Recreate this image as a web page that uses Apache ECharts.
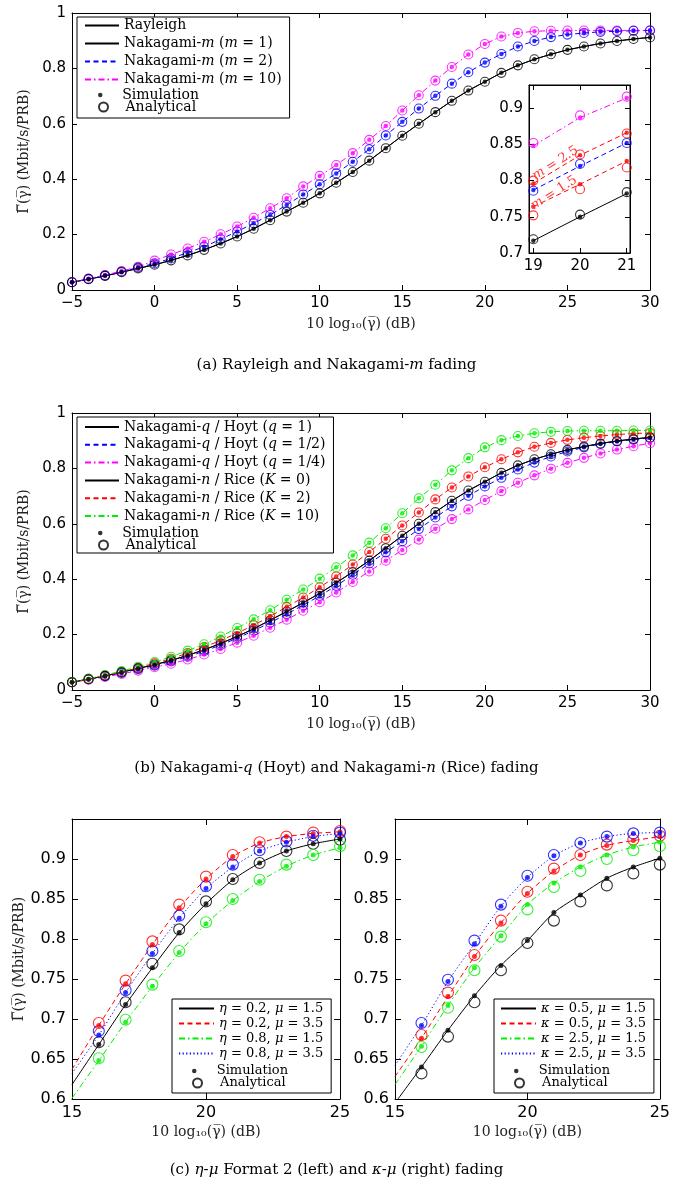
<!DOCTYPE html>
<html><head><meta charset="utf-8">
<script src="https://cdn.jsdelivr.net/npm/echarts@6/dist/echarts.min.js"></script>
<style>html,body{margin:0;padding:0;background:#fff}#c{width:673px;height:1187px}</style>
</head><body><div id="c"></div>
<script>
// ---------- data ----------
const snrDb = [-5,-4,-3,-2,-1,0,1,2,3,4,5,6,7,8,9,10,11,12,13,14,15,16,17,18,19,20,21,22,23,24,25,26,27,28,29,30];
const rayleigh = [0.028,0.039,0.051,0.064,0.078,0.091,0.107,0.125,0.145,0.168,0.193,0.221,0.252,0.283,0.315,0.349,0.387,0.426,0.467,0.512,0.557,0.600,0.642,0.683,0.720,0.752,0.784,0.811,0.833,0.851,0.867,0.879,0.890,0.899,0.906,0.912];
const nakM2 = [0.028,0.040,0.052,0.066,0.081,0.096,0.114,0.135,0.156,0.183,0.211,0.241,0.271,0.307,0.345,0.382,0.421,0.463,0.508,0.558,0.607,0.655,0.701,0.745,0.786,0.821,0.852,0.879,0.899,0.913,0.922,0.928,0.932,0.934,0.936,0.937];
const nakM10 = [0.028,0.041,0.054,0.068,0.084,0.106,0.128,0.150,0.174,0.201,0.229,0.261,0.295,0.331,0.374,0.412,0.451,0.494,0.542,0.592,0.648,0.703,0.756,0.805,0.850,0.888,0.915,0.928,0.934,0.936,0.937,0.937,0.937,0.937,0.937,0.937];

const insetDb = [19,20,21];
const insetSimM1 = [0.717,0.750,0.782];
const insetAnaM1 = [0.719,0.753,0.784];
const insetSimM15 = [0.764,0.795,0.827];
const insetAnaM15 = [0.752,0.788,0.818];
const insetSimM2 = [0.787,0.820,0.852];
const insetAnaM2 = [0.786,0.823,0.852];
const insetSimM25 = [0.796,0.835,0.866];
const insetAnaM25 = [0.800,0.836,0.865];
const insetSimM10 = [0.848,0.887,0.914];
const insetAnaM10 = [0.852,0.890,0.916];

const hoytQ2 = [0.028,0.039,0.050,0.062,0.075,0.088,0.103,0.120,0.140,0.162,0.187,0.214,0.243,0.274,0.306,0.340,0.376,0.416,0.457,0.497,0.537,0.581,0.623,0.663,0.701,0.735,0.766,0.796,0.821,0.843,0.861,0.876,0.888,0.897,0.904,0.910];
const hoytQ4 = [0.027,0.037,0.047,0.058,0.070,0.082,0.095,0.110,0.128,0.148,0.171,0.196,0.225,0.254,0.286,0.317,0.352,0.390,0.428,0.467,0.505,0.543,0.582,0.617,0.652,0.686,0.718,0.748,0.775,0.799,0.820,0.838,0.854,0.868,0.880,0.891];
const riceK2 = [0.028,0.040,0.052,0.065,0.080,0.096,0.113,0.133,0.155,0.179,0.205,0.234,0.266,0.300,0.334,0.371,0.410,0.453,0.498,0.546,0.594,0.641,0.688,0.731,0.771,0.804,0.833,0.858,0.878,0.892,0.903,0.911,0.917,0.922,0.926,0.928];
const riceK10 = [0.029,0.041,0.054,0.068,0.084,0.101,0.120,0.142,0.165,0.193,0.224,0.255,0.288,0.326,0.363,0.402,0.443,0.486,0.532,0.584,0.638,0.692,0.741,0.793,0.837,0.876,0.902,0.917,0.927,0.932,0.935,0.936,0.936,0.936,0.937,0.937];

const snrDbC = [16,17,18,19,20,21,22,23,24,25];
const lineStartDb = 15;
const etaSim02_15 = [0.668,0.718,0.764,0.808,0.844,0.874,0.895,0.910,0.919,0.925];
const etaAna02_15 = [0.671,0.721,0.769,0.812,0.847,0.875,0.895,0.910,0.919,0.924];
const etaSim02_35 = [0.692,0.744,0.793,0.839,0.875,0.903,0.920,0.928,0.932,0.934];
const etaAna02_35 = [0.695,0.748,0.797,0.843,0.878,0.905,0.921,0.928,0.933,0.935];
const etaSim08_15 = [0.648,0.696,0.741,0.783,0.819,0.848,0.872,0.891,0.905,0.914];
const etaAna08_15 = [0.651,0.699,0.743,0.785,0.821,0.850,0.874,0.893,0.905,0.916];
const etaSim08_35 = [0.680,0.733,0.782,0.826,0.863,0.890,0.910,0.921,0.928,0.932];
const etaAna08_35 = [0.685,0.736,0.785,0.829,0.866,0.893,0.911,0.922,0.929,0.933];
const etaLineAt15 = [0.618,0.637,0.601,0.632];
const kapSim05_15 = [0.640,0.686,0.729,0.767,0.798,0.833,0.855,0.876,0.890,0.901];
const kapAna05_15 = [0.632,0.678,0.721,0.761,0.795,0.823,0.847,0.867,0.882,0.893];
const kapSim05_35 = [0.676,0.728,0.778,0.820,0.857,0.885,0.905,0.917,0.923,0.928];
const kapAna05_35 = [0.680,0.733,0.780,0.823,0.859,0.888,0.905,0.918,0.924,0.929];
const kapSim25_15 = [0.666,0.717,0.764,0.804,0.843,0.870,0.890,0.905,0.915,0.921];
const kapAna25_15 = [0.665,0.714,0.761,0.803,0.837,0.865,0.885,0.900,0.911,0.916];
const kapSim25_35 = [0.692,0.747,0.794,0.841,0.877,0.904,0.920,0.928,0.932,0.933];
const kapAna25_35 = [0.695,0.749,0.798,0.843,0.879,0.905,0.920,0.928,0.932,0.933];
const kapLineAt15 = [0.595,0.628,0.618,0.642];

const inset1dbTicks = [19,20,21];

// ---------- style ----------
const SERIF = 'DejaVu Serif', SANS = 'DejaVu Sans';
const BLACK='#000000', RED='#ff0000', BLUE='#0000ff', MAG='#ff00ff', GREEN='#00ee00';
const DASH=[5,3.5], DASHDOT=[6,3,1.5,3], DOT=[1.2,2.4];
const XNAME = '10 log\u2081\u2080(\u03b3\u0305) (dB)';
const YNAME = '\u0393\u0305(\u03b3\u0305) (Mbit/s/PRB)';

const pairs = (xs, ys) => xs.map((x, i) => [x, ys[i]]);
const fmt = v => { const r = Math.round(v * 1000) / 1000; return r < 0 ? '\u2212' + (-r) : String(r); };

function axisPair(kind, gi, c) {
  const tick = {show:true, inside:true, length:c.tick || 5, lineStyle:{color:'#000', width:1}};
  if (c.custom) tick.customValues = c.custom;
  const base = {gridIndex:gi, type:'value', min:c.min, max:c.max, splitLine:{show:false},
    axisLine:{show:true, onZero:false, lineStyle:{color:'#000', width:1}}, axisTick:tick, z:c.z || 0};
  if (c.interval) base.interval = c.interval;
  const lab = {show:true, color:'#000', fontFamily:SANS, fontSize:c.fs || 15, margin:c.margin || 6, formatter:fmt};
  if (c.custom) lab.customValues = c.custom;
  if (c.hideMax) lab.showMaxLabel = false;
  const main = Object.assign({}, base, {position: kind === 'x' ? 'bottom' : 'left', axisLabel:lab});
  if (c.name) {
    Object.assign(main, {name:c.name, nameLocation:'middle', nameGap:c.nameGap, nameRotate: kind === 'y' ? 90 : 0,
      nameTextStyle:{fontFamily:SERIF, fontSize:14, color:'#222'}});
  }
  const mirror = Object.assign({}, base, {position: kind === 'x' ? 'top' : 'right', axisLabel:{show:false}});
  return [main, mirror];
}

const xAxis = [
  ...axisPair('x', 0, {min:-5, max:30, interval:5, name:XNAME, nameGap:27}),
  ...axisPair('x', 1, {min:18.907, max:21.07, custom:inset1dbTicks, z:6}),
  ...axisPair('x', 2, {min:-5, max:30, interval:5, name:XNAME, nameGap:27}),
  ...axisPair('x', 3, {min:15, max:25, interval:5, name:XNAME, nameGap:26, fs:16, tick:6}),
  ...axisPair('x', 4, {min:15, max:25, interval:5, name:XNAME, nameGap:26, fs:16, tick:6})
];
const yAxis = [
  ...axisPair('y', 0, {min:0, max:1, interval:0.2, name:YNAME, nameGap:34}),
  ...axisPair('y', 1, {min:0.7, max:0.932, interval:0.05, hideMax:true, z:6}),
  ...axisPair('y', 2, {min:0, max:1, interval:0.2, name:YNAME, nameGap:34}),
  ...axisPair('y', 3, {min:0.6, max:0.95, interval:0.05, hideMax:true, name:YNAME, nameGap:40, fs:16, tick:6}),
  ...axisPair('y', 4, {min:0.6, max:0.95, interval:0.05, hideMax:true, fs:16, tick:6})
];

const S = [];
const ax = gi => ({xAxisIndex:2 * gi, yAxisIndex:2 * gi});
function line(name, gi, data, color, dash, z, smooth) {
  S.push(Object.assign({type:'line', name, data, symbol:'none', smooth:smooth || false,
    lineStyle:{color, width:1, type:dash || 'solid'}, itemStyle:{color}, z:z || 2, silent:true}, ax(gi)));
}
function circles(name, gi, data, color, size, z) {
  S.push(Object.assign({type:'scatter', name, data, symbol:'circle', symbolSize:size,
    itemStyle:{color:'rgba(255,255,255,0)', borderColor:color, borderWidth:1.1}, z:z || 3, silent:true}, ax(gi)));
}
function dots(name, gi, data, color, size, z) {
  S.push(Object.assign({type:'scatter', name, data, symbol:'circle', symbolSize:size,
    itemStyle:{color}, z:z || 4, silent:true}, ax(gi)));
}

// (a) main
line('Rayleigh', 0, pairs(snrDb, rayleigh), BLACK);
line('Nakagami-m (m = 1)', 0, pairs(snrDb, rayleigh), BLACK);
line('Nakagami-m (m = 2)', 0, pairs(snrDb, nakM2), BLUE, DASH);
line('Nakagami-m (m = 10)', 0, pairs(snrDb, nakM10), MAG, DASHDOT);
circles('a-ana-m10', 0, pairs(snrDb, nakM10), MAG, 9);
circles('a-ana-m2', 0, pairs(snrDb, nakM2), BLUE, 9);
circles('Analytical', 0, pairs(snrDb, rayleigh), BLACK, 9);
dots('a-sim-m10', 0, pairs(snrDb, nakM10), MAG, 4.5);
dots('a-sim-m2', 0, pairs(snrDb, nakM2), BLUE, 4.5);
dots('Simulation', 0, pairs(snrDb, rayleigh), BLACK, 4.5);
// (a) inset
line('i-m1', 1, pairs(insetDb, insetSimM1), BLACK, null, 7);
line('i-m15', 1, pairs(insetDb, insetSimM15), RED, DASH, 7);
line('i-m2', 1, pairs(insetDb, insetSimM2), BLUE, DASH, 7);
line('i-m25', 1, pairs(insetDb, insetSimM25), RED, DASH, 7);
line('i-m10', 1, pairs(insetDb, insetSimM10), MAG, DASHDOT, 7);
[[insetAnaM1, BLACK],[insetAnaM15, RED],[insetAnaM2, BLUE],[insetAnaM25, RED],[insetAnaM10, MAG]].forEach((p, k) => circles('i-ana' + k, 1, pairs(insetDb, p[0]), p[1], 9, 8));
[[insetSimM1, BLACK],[insetSimM15, RED],[insetSimM2, BLUE],[insetSimM25, RED],[insetSimM10, MAG]].forEach((p, k) => dots('i-sim' + k, 1, pairs(insetDb, p[0]), p[1], 4.5, 9));

// (b)
line('Nakagami-q / Hoyt (q = 1)', 2, pairs(snrDb, rayleigh), BLACK);
line('Nakagami-q / Hoyt (q = 1/2)', 2, pairs(snrDb, hoytQ2), BLUE, DASH);
line('Nakagami-q / Hoyt (q = 1/4)', 2, pairs(snrDb, hoytQ4), MAG, DASHDOT);
line('Nakagami-n / Rice (K = 0)', 2, pairs(snrDb, rayleigh), BLACK);
line('Nakagami-n / Rice (K = 2)', 2, pairs(snrDb, riceK2), RED, DASH);
line('Nakagami-n / Rice (K = 10)', 2, pairs(snrDb, riceK10), GREEN, DASHDOT);
[[hoytQ4, MAG],[hoytQ2, BLUE],[riceK2, RED],[riceK10, GREEN],[rayleigh, BLACK]].forEach((p, k) => circles('b-ana' + k, 2, pairs(snrDb, p[0]), p[1], 9));
[[hoytQ4, MAG],[hoytQ2, BLUE],[riceK2, RED],[riceK10, GREEN],[rayleigh, BLACK]].forEach((p, k) => dots('b-sim' + k, 2, pairs(snrDb, p[0]), p[1], 4.5));

// (c) left: eta-mu
const cLeft = [
  ['\u03b7 = 0.2, \u03bc = 1.5', etaSim02_15, etaAna02_15, BLACK, 'solid'],
  ['\u03b7 = 0.2, \u03bc = 3.5', etaSim02_35, etaAna02_35, RED, DASH],
  ['\u03b7 = 0.8, \u03bc = 1.5', etaSim08_15, etaAna08_15, GREEN, DASHDOT],
  ['\u03b7 = 0.8, \u03bc = 3.5', etaSim08_35, etaAna08_35, BLUE, DOT]
];
cLeft.forEach((c, k) => line(c[0], 3, [[lineStartDb, etaLineAt15[k]]].concat(pairs(snrDbC, c[1])), c[3], c[4], 2, 0.25));
cLeft.forEach((c, k) => circles('cl-ana' + k, 3, pairs(snrDbC, c[2]), c[3], 11));
cLeft.forEach((c, k) => dots('cl-sim' + k, 3, pairs(snrDbC, c[1]), c[3], 5));
// (c) right: kappa-mu
const cRight = [
  ['\u03ba = 0.5, \u03bc = 1.5', kapSim05_15, kapAna05_15, BLACK, 'solid'],
  ['\u03ba = 0.5, \u03bc = 3.5', kapSim05_35, kapAna05_35, RED, DASH],
  ['\u03ba = 2.5, \u03bc = 1.5', kapSim25_15, kapAna25_15, GREEN, DASHDOT],
  ['\u03ba = 2.5, \u03bc = 3.5', kapSim25_35, kapAna25_35, BLUE, DOT]
];
cRight.forEach((c, k) => line(c[0], 4, [[lineStartDb, kapLineAt15[k]]].concat(pairs(snrDbC, c[1])), c[3], c[4], 2, 0.25));
cRight.forEach((c, k) => circles('cr-ana' + k, 4, pairs(snrDbC, c[2]), c[3], 11));
cRight.forEach((c, k) => dots('cr-sim' + k, 4, pairs(snrDbC, c[1]), c[3], 5));

// ---------- legends ----------
const richify = n => n.replace(/Nakagami-([mqn])/, 'Nakagami-{i|$1}').replace(/\(([mqK]) =/, '({i|$1} =').replace(/([\u03b7\u03ba\u03bc])/g, '{i|$1}');
function legends(lines, o) {
  const ts = {fontFamily:SERIF, fontSize:o.fs, lineHeight:o.lh, color:'#000',
    rich:{i:{fontFamily:SERIF, fontSize:o.fs, lineHeight:o.lh, fontStyle:'italic', color:'#000'}}};
  const common = {orient:'vertical', itemWidth:o.iw, itemGap:o.gap, selectedMode:false, formatter:richify, textStyle:ts};
  return [
    Object.assign({}, common, {data:lines, left:o.left, top:o.top, padding:[o.pt, 8, o.pb, o.pl], itemHeight:10,
      itemStyle:{opacity:0}, borderColor:'#000', borderWidth:1, backgroundColor:'#fff', z:4}),
    Object.assign({}, common, {data:['Simulation'], left:o.left + 14, top:o.simTop, padding:[0, 0, 0, o.pl], itemHeight:4.5, z:6}),
    Object.assign({}, common, {data:['Analytical'], left:o.left + 14, top:o.anaTop, padding:[0, 0, 0, o.pl], itemHeight:9, z:6})
  ];
}
const legend = [
  ...legends(['Rayleigh','Nakagami-m (m = 1)','Nakagami-m (m = 2)','Nakagami-m (m = 10)'],
    {left:77, top:17, pt:1, pb:31, pl:7, gap:3, iw:34, fs:14, lh:15, simTop:87.5, anaTop:99.5}),
  ...legends(['Nakagami-q / Hoyt (q = 1)','Nakagami-q / Hoyt (q = 1/2)','Nakagami-q / Hoyt (q = 1/4)','Nakagami-n / Rice (K = 0)','Nakagami-n / Rice (K = 2)','Nakagami-n / Rice (K = 10)'],
    {left:77, top:417, pt:2.5, pb:29.5, pl:7, gap:2.8, iw:34, fs:14, lh:15, simTop:525.5, anaTop:537.5}),
  ...legends(cLeft.map(c => c[0]), {left:172, top:999, pt:2.5, pb:32.5, pl:6, gap:1, iw:35, fs:13, lh:14, simTop:1064, anaTop:1076}),
  ...legends(cRight.map(c => c[0]), {left:494, top:999, pt:2.5, pb:32.5, pl:6, gap:1, iw:35, fs:13, lh:14, simTop:1064, anaTop:1076})
];

const capStyle = {fontFamily:SERIF, fontSize:15, fontWeight:'normal', color:'#000', lineHeight:20,
  rich:{i:{fontFamily:SERIF, fontSize:15, fontStyle:'italic', color:'#000', lineHeight:20}}};
const title = [
  {text:'(a) Rayleigh and Nakagami-{i|m} fading', left:'center', top:355, padding:0, textStyle:capStyle},
  {text:'(b) Nakagami-{i|q} (Hoyt) and Nakagami-{i|n} (Rice) fading', left:'center', top:758, padding:0, textStyle:capStyle},
  {text:'(c) {i|\u03b7}-{i|\u03bc} Format 2 (left) and {i|\u03ba}-{i|\u03bc} (right) fading', left:'center', top:1160, padding:0, textStyle:capStyle}
];

const grid = [
  {left:72, top:13, width:578, height:277},
  {left:529, top:85, width:101, height:168, z:5, show:true, backgroundColor:'#fff', borderColor:'#000', borderWidth:1},
  {left:72, top:413, width:578, height:277},
  {left:72, top:819, width:268, height:280},
  {left:395, top:819, width:268, height:280}
];

const chart = echarts.init(document.getElementById('c'));
chart.setOption({animation:false, backgroundColor:'#fff', title, grid, xAxis, yAxis, legend, series:S});

// inset annotations
const insetLabels = [['{i|m} = 2.5', 19.47, 0.824], ['{i|m} = 1.5', 19.44, 0.783]];
chart.setOption({graphic: insetLabels.map(l => {
  const p = chart.convertToPixel({gridIndex:1}, [l[1], l[2]]);
  return {type:'text', x:p[0], y:p[1], rotation:0.57, z:50,
    style:{text:l[0], fill:'#ff3a3a', fontFamily:SERIF, fontSize:13, align:'center', verticalAlign:'middle',
      rich:{i:{fontFamily:SERIF, fontSize:13, fontStyle:'italic', fill:'#ff3a3a'}}}};
})});
</script></body></html>
